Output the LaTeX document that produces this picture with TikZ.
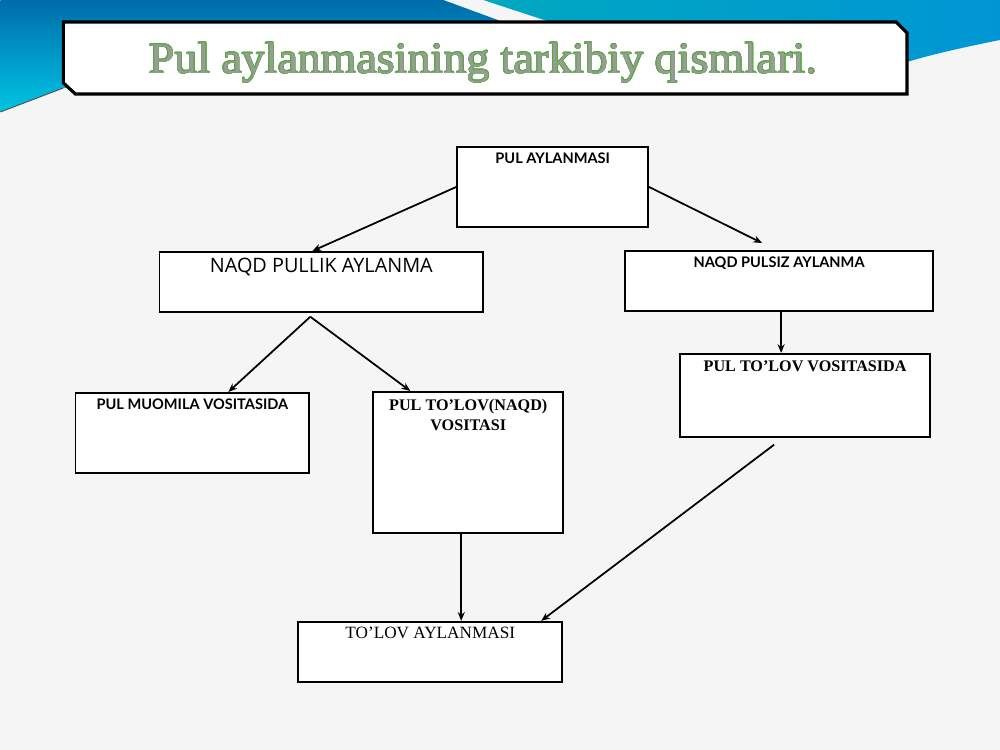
\documentclass[tikz,border=0pt]{standalone}
\usepackage{fontspec}
\usepackage{contour}
\setmainfont{Liberation Serif}
\newfontfamily\latofont{Lato}
\newfontfamily\opensansfont{Open Sans}
\usetikzlibrary{arrows.meta,
                calc}

\definecolor{pagebg}{RGB}{245,245,245}
\definecolor{wavedark}{RGB}{0,108,170}
\definecolor{wavecyan}{RGB}{0,196,226}
\definecolor{waveteal}{RGB}{0,168,192}
\definecolor{waveblue}{RGB}{0,150,212}
\definecolor{titlefill}{RGB}{150,158,146}
\definecolor{titlerim}{RGB}{90,165,70}

\newcommand{\latobig}{\latofont\bfseries\fontsize{8.3}{10}\selectfont}
\newcommand{\opensansbig}{\opensansfont\fontsize{11.3}{13}\selectfont}
\newcommand{\timesbold}{\bfseries\fontsize{9.2}{11.4}\selectfont}
\newcommand{\timesplain}{\fontsize{9.8}{11}\selectfont}
\contourlength{0.3pt}

\tikzset{
    blk/.style={draw, line width=1pt, fill=white, inner sep=0pt},
    arr/.style={line width=1pt, -{Stealth[length=5pt, width=4pt]}},
    boxcap/.style={anchor=north, inner sep=0pt, yshift=-0.12cm, align=center}
}

\begin{document}
\begin{tikzpicture}[x=0.02cm, y=-0.02cm]
    \fill [pagebg] (0, 0) rectangle (1000, 750);
    \shade [top color=wavedark, bottom color=wavecyan] (0, 0) -- (443, 0) -- (503, 22) -- (503, 60) -- (63, 88) -- (0, 112) -- cycle;
    \shade [left color=waveteal, right color=waveblue] (483, 0) -- (1000, 0) -- (1000, 40) .. controls (960, 48) and (930, 55) .. (907, 62) -- (907, 30) -- (550, 22) -- cycle;
    \draw [line width=0.5pt, black!70] (0, 112) -- (63, 88);

    \draw [line width=1.8pt, fill=white] (63, 22) -- (896, 22) -- (907, 33) -- (907, 94) -- (75, 94) -- (63, 83) -- cycle;
    \node (title) at (483, 63) {\scalebox{1.045}[1]{\fontsize{25}{28}\selectfont\color{titlefill}\contour{titlerim}{Pul aylanmasining tarkibiy qismlari.}}};

    \node [blk, minimum width=3.82cm, minimum height=1.6cm, label={[boxcap]north:{\latobig PUL AYLANMASI}}] (pul) at (552.5, 187) {};
    \node [blk, minimum width=6.48cm, minimum height=1.2cm, label={[boxcap, yshift=-0.02cm]north:{\opensansbig NAQD PULLIK AYLANMA}}] (pullik) at (321, 282) {};
    \node [blk, minimum width=6.16cm, minimum height=1.2cm, label={[boxcap]north:{\latobig NAQD PULSIZ AYLANMA}}] (pulsiz) at (779, 281) {};
    \node [blk, minimum width=4.68cm, minimum height=1.6cm, label={[boxcap, yshift=-0.02cm]north:{\latobig PUL MUOMILA VOSITASIDA}}] (muomila) at (192, 433) {};
    \node [blk, minimum width=3.8cm, minimum height=2.82cm, label={[boxcap, yshift=-0.04cm, font=\timesbold]north:{PUL TO’LOV(NAQD)\\VOSITASI}}] (naqdvos) at (468, 462.5) {};
    \node [blk, minimum width=5cm, minimum height=1.66cm, label={[boxcap, yshift=-0.02cm]north:{\timesbold PUL TO’LOV VOSITASIDA}}] (tolovv) at (805, 395.5) {};
    \node [blk, minimum width=5.28cm, minimum height=1.2cm, label={[boxcap]north:{\timesplain TO’LOV AYLANMASI}}] (tolov) at (430, 652) {};

    \draw [arr] (pul.west) -- ($(pullik.north)+(-9, 0)$);
    \draw [arr] (pul.east) -- ($(pulsiz.north)+(-17, -7)$);
    \coordinate (s1) at ($(pulsiz.south)+(2, 0)$);
    \draw [arr] (s1) -- (s1 |- tolovv.north);
    \coordinate (fork) at ($(pullik.south)+(-11, 4)$);
    \draw [arr] (fork) -- ($(muomila.north)+(36, 0)$);
    \draw [arr] (fork) -- ($(naqdvos.north)+(-58, 0)$);
    \coordinate (s2) at ($(naqdvos.south)+(-7, 0)$);
    \draw [arr] (s2) -- (s2 |- tolov.north);
    \draw [arr] ($(tolovv.south)+(-31, 7)$) -- ($(tolov.north)+(111, 0)$);
\end{tikzpicture}
\end{document}
